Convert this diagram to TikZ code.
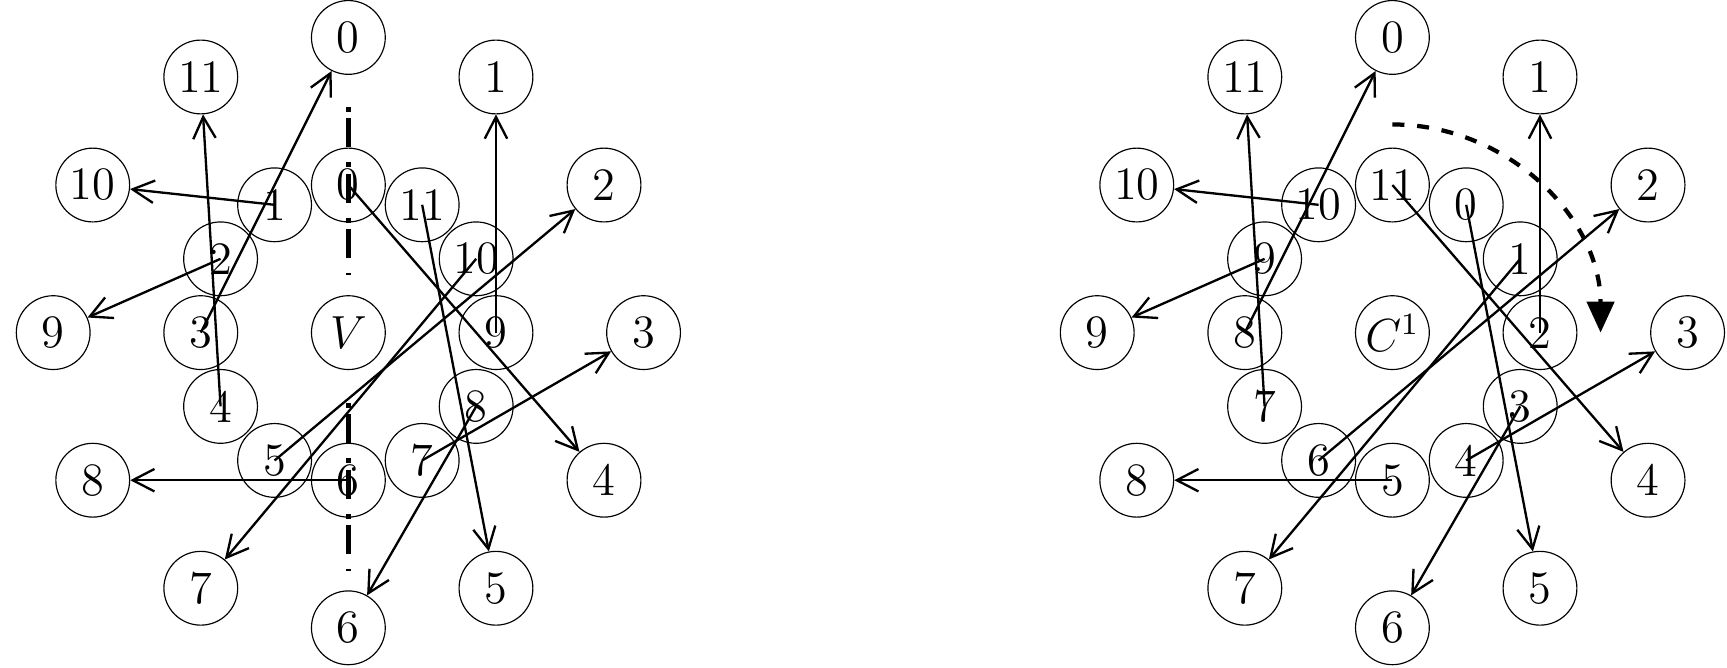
\documentclass[tikz,border=0pt]{standalone}
\usetikzlibrary{arrows.meta,calc}
\begin{document}
\begin{tikzpicture}[x=1cm,y=1cm,
  ring/.style={circle, draw, line width=0.3pt, minimum size=0.67cm, inner sep=0pt, font=\fontsize{12}{14}\selectfont},
  link/.style={line width=0.6pt, -{Straight Barb[length=5.6pt,width=5.8pt]}},
  axisline/.style={line width=1.25pt, dash pattern=on 1.3pt off 1.6pt on 7.5pt off 3.9pt},
  turn/.style={line width=1.1pt, dash pattern=on 3.1pt off 3.3pt, -{Triangle[length=8pt,width=7pt]}}]
\path[use as bounding box] (0,0) rectangle (15.68,6.06);
\coordinate (LC) at (3.163,3.04);
\coordinate (RC) at (12.642,3.04);
\node[ring] (LV) at (LC) {$V$};
\node[ring] (RV) at (RC) {$C^1$};
\foreach \j in {0,...,11}{
  \node[ring] (Lo\j) at ($(LC)+({90-30*\j}:2.68)$) {\j};
  \node[ring] (Ro\j) at ($(RC)+({90-30*\j}:2.68)$) {\j};
}
\foreach \i in {0,...,11}{
  \node[ring] (Li\i) at ($(LC)+({90+30*\i}:1.34)$) {\i};
  \node[ring] (Ri\i) at ($(RC)+({60-30*\i}:1.34)$) {\i};
}
\foreach \i/\m in {0/4,1/10,2/9,3/0,4/11,5/2,6/8,7/3,8/6,9/1,10/7,11/5}{
  \draw[link] (Li\i.center) -- (Lo\m);
}
\foreach \r/\m in {11/4,10/10,9/9,8/0,7/11,6/2,5/8,4/3,3/6,2/1,1/7,0/5}{
  \draw[link] (Ri\r.center) -- (Ro\m);
}
\coordinate (At) at (3.163,5.088);
\coordinate (Ab) at (3.163,3.560);
\coordinate (Bt) at (3.163,2.401);
\coordinate (Bb) at (3.163,0.880);
\draw[axisline] (At) -- (Ab);
\draw[axisline] (Bt) -- (Bb);
\coordinate (Rs) at (12.642,4.93);
\draw[turn] (Rs) arc[start angle=90,end angle=0,radius=1.89];
\end{tikzpicture}
\end{document}
